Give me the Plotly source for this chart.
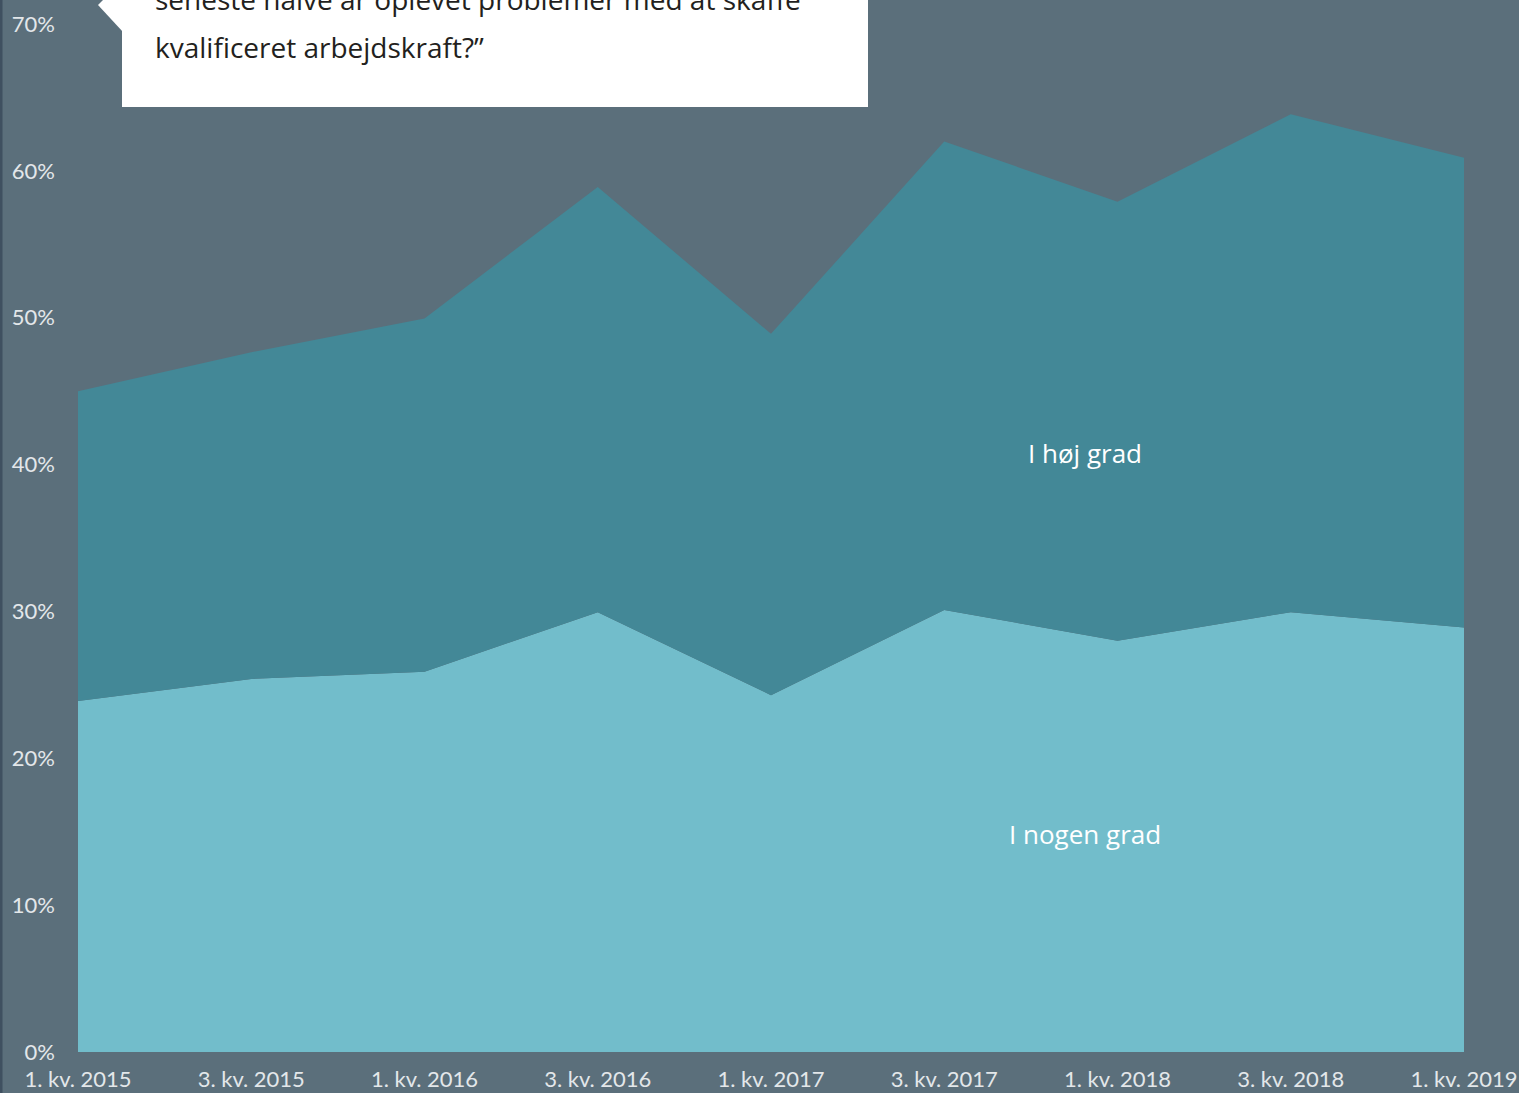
import plotly.graph_objects as go

# Data (half-yearly survey)
periods = ["1. kv. 2015", "3. kv. 2015", "1. kv. 2016", "3. kv. 2016", "1. kv. 2017",
           "3. kv. 2017", "1. kv. 2018", "3. kv. 2018", "1. kv. 2019"]
nogen_grad = [23.9, 25.4, 25.9, 29.95, 24.3, 30.1, 28.0, 29.95, 28.9]
hoej_grad = [21.1, 22.25, 24.05, 28.95, 24.6, 31.9, 29.9, 33.9, 32.0]
y_ticks = [0, 10, 20, 30, 40, 50, 60, 70]
y_ticktext = [f"{v}%" for v in y_ticks]

BG = "#5b6f7b"
LIGHT = "#72bdcb"
DARK = "#438897"
TICK = "#e3e7ea"

W, H = 1519, 1093
L, R, T, B = 78, 55, 24, 41
pw, ph = W - L - R, H - T - B

def px(x):
    return (x - L) / pw

def py(y):
    return (H - B - y) / ph

xs = list(range(len(periods)))

fig = go.Figure()
fig.add_trace(go.Scatter(x=xs, y=nogen_grad, stackgroup="a", mode="lines",
                         line=dict(width=0, color=LIGHT), fillcolor=LIGHT,
                         name="I nogen grad", hoverinfo="skip"))
fig.add_trace(go.Scatter(x=xs, y=hoej_grad, stackgroup="a", mode="lines",
                         line=dict(width=0, color=DARK), fillcolor=DARK,
                         name="I høj grad", hoverinfo="skip"))

shapes = [
    # left dark edge
    dict(type="rect", xref="paper", yref="paper", x0=px(0), x1=px(2.5), y0=py(H), y1=py(0),
         fillcolor="#3f5060", line=dict(width=0), layer="above"),
    # callout box
    dict(type="rect", xref="paper", yref="paper", x0=px(122), x1=px(868), y0=py(107), y1=py(-20),
         fillcolor="white", line=dict(width=0), layer="above"),
    # callout pointer
    dict(type="path", xref="paper", yref="paper",
         path=f"M {px(98)},{py(5)} L {px(123)},{py(-20)} L {px(123)},{py(32)} Z",
         fillcolor="white", line=dict(width=0), layer="above"),
]

annotations = [
    dict(text="seneste halve år oplevet problemer med at skaffe", xref="paper", yref="paper",
         x=px(153), y=py(-1), xanchor="left", yanchor="middle", showarrow=False,
         font=dict(family="Open Sans", size=28, color="#231f20")),
    dict(text="kvalificeret arbejdskraft?”", xref="paper", yref="paper",
         x=px(153), y=py(47), xanchor="left", yanchor="middle", showarrow=False,
         font=dict(family="Open Sans", size=28, color="#231f20")),
    dict(text="I høj grad", x=5.81, y=40.8, xref="x", yref="y", showarrow=False,
         font=dict(family="Open Sans", size=26, color="white")),
    dict(text="I nogen grad", x=5.81, y=14.85, xref="x", yref="y", showarrow=False,
         font=dict(family="Open Sans", size=26, color="white")),
]

fig.update_layout(
    width=W, height=H, autosize=False,
    margin=dict(l=L, r=R, t=T, b=B, pad=0, autoexpand=False),
    paper_bgcolor=BG, plot_bgcolor=BG,
    showlegend=False,
    shapes=shapes,
    annotations=annotations,
    xaxis=dict(range=[0, len(periods) - 1], tickvals=xs, ticktext=periods,
               showgrid=False, zeroline=False, showline=False, ticks="",
               automargin=False,
               tickfont=dict(family="Lato", size=22, color=TICK), ticklabelstandoff=12,
               fixedrange=True),
    yaxis=dict(range=[0, 70], tickvals=y_ticks, ticktext=y_ticktext,
               showgrid=False, zeroline=False, showline=False, ticks="",
               automargin=False,
               tickfont=dict(family="Lato", size=22, color=TICK), ticklabelstandoff=22,
               fixedrange=True),
)

fig.write_html("out.html", config={"displayModeBar": False, "responsive": False},
               default_width="1519px", default_height="1093px",
               post_script="document.body.style.margin='0';document.body.style.overflow='hidden';")
